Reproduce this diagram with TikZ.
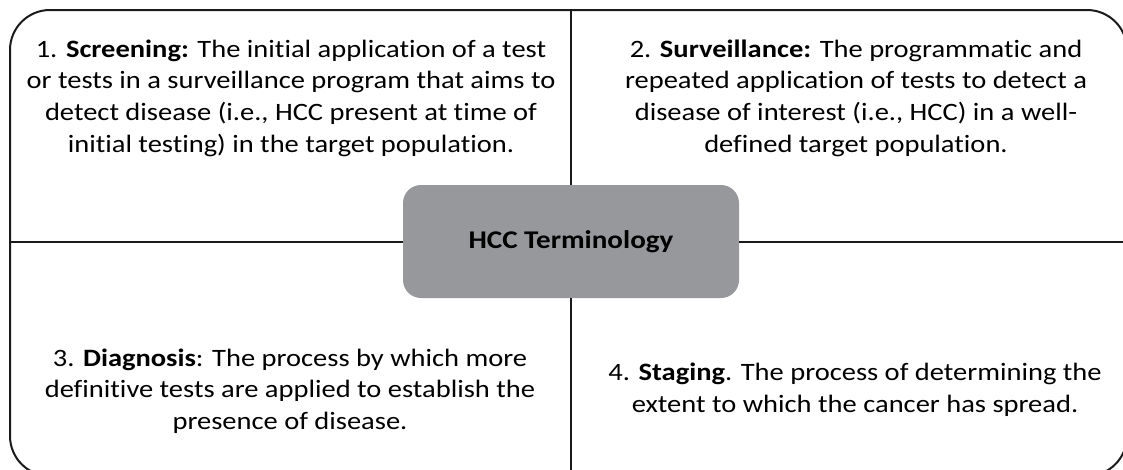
\documentclass[tikz,border=0pt]{standalone}
\usepackage{fontspec}
\setmainfont{Carlito}[FakeStretch=1.14, Ligatures=NoCommon]
\definecolor{hubgray}{HTML}{97989C}
\definecolor{linecol}{HTML}{1A1A1A}
\tikzset{
  txt/.style={align=center, font=\fontsize{25}{31.7}\selectfont, inner sep=0pt, text=black},
  hubbox/.style={fill=hubgray, draw=none, rounded corners=18pt, minimum width=336pt, minimum height=113pt, font=\fontsize{25.5}{31}\selectfont\bfseries},
  framebox/.style={draw=linecol, line width=2pt, rounded corners=40pt, minimum width=1117pt, minimum height=466pt, inner sep=0pt},
  divider/.style={draw=linecol, line width=2pt}
}
\begin{document}
\begin{tikzpicture}[x=1pt,y=-1pt]
\useasboundingbox (0,0) rectangle (1123,469);
\node[framebox] (frame) at (568.5,243) {};
\node[hubbox] (hub) at (571,241.5) {HCC Terminology};
\draw[divider] (hub.north) -- (hub.north |- frame.north);
\draw[divider] (hub.south) -- (hub.south |- frame.south);
\draw[divider] (hub.west) -- (hub.west -| frame.west);
\draw[divider] (hub.east) -- (hub.east -| frame.east);
\node[txt] (q1) at (291,98) {1. \textbf{Screening:} The initial application of a test\\or tests in a surveillance program that aims to\\detect disease (i.e., HCC present at time of\\initial testing) in the target population.};
\node[txt] (q2) at (856,98) {2. \textbf{Surveillance:} The programmatic and\\repeated application of tests to detect a\\disease of interest (i.e., HCC) in a well-\\defined target population.};
\node[txt] (q3) at (290,391) {3. \textbf{Diagnosis}: The process by which more\\definitive tests are applied to establish the\\presence of disease.};
\node[txt] (q4) at (855,390) {4. \textbf{Staging}. The process of determining the\\extent to which the cancer has spread.};
\end{tikzpicture}
\end{document}
